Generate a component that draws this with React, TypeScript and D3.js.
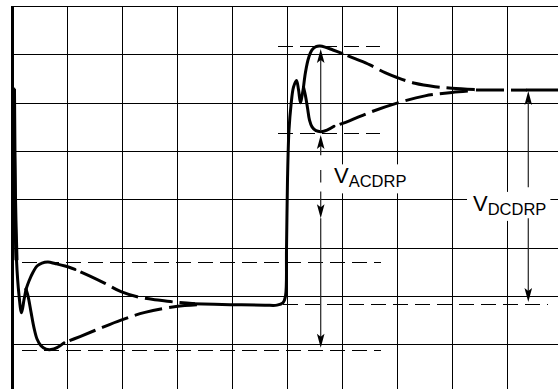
import React, { useEffect, useRef } from 'react';
import * as d3 from 'd3';

type P = [number, number];

// grid: 10 time divisions x 8 voltage divisions
const xDivs: number[] = d3.range(0, 11);
const yDivs: number[] = d3.range(0, 9);

// trace: load step down (left) – solid part
const leftStart: P[] = [
  [0.036, 6.28], [0.055, 4.0], [0.082, 2.74], [0.127, 2.02], [0.173, 1.65], [0.218, 1.92], [0.255, 2.14],
];
const leftUpperSolid: P[] = [
  [0.255, 2.14], [0.309, 2.31], [0.382, 2.49], [0.455, 2.62], [0.545, 2.68], [0.655, 2.70], [0.782, 2.67], [0.964, 2.62], [1.145, 2.55],
];
const leftUpperDashed: P[] = [
  [1.145, 2.55], [1.418, 2.41], [1.691, 2.26], [1.982, 2.09], [2.327, 1.97], [2.691, 1.91], [2.982, 1.87], [3.327, 1.84],
];
const leftLowerSolid: P[] = [
  [0.255, 2.14], [0.291, 2.0], [0.345, 1.67], [0.4, 1.34], [0.455, 1.11], [0.527, 0.97], [0.618, 0.90], [0.709, 0.89], [0.818, 0.93], [0.945, 1.03],
];
const leftLowerDashed: P[] = [
  [0.945, 1.03], [1.236, 1.16], [1.6, 1.33], [1.982, 1.50], [2.418, 1.66], [2.982, 1.78], [3.418, 1.82],
];
// settled low level and load step up
const middleSolid: P[] = [
  [3.273, 1.84], [3.964, 1.82], [4.6, 1.81], [4.818, 1.81], [4.927, 1.86], [4.973, 2.0], [4.991, 2.95], [5.009, 4.40],
  [5.036, 5.43], [5.073, 5.95], [5.118, 6.32], [5.173, 6.46], [5.209, 6.27], [5.245, 6.0], [5.273, 6.14], [5.3, 6.32],
];
const rightUpperSolid: P[] = [
  [5.3, 6.32], [5.336, 6.63], [5.391, 6.92], [5.455, 7.09], [5.527, 7.16], [5.6, 7.17], [5.691, 7.15], [5.836, 7.09], [6.0, 7.02],
];
const rightUpperDashed: P[] = [
  [6.0, 7.02], [6.236, 6.91], [6.509, 6.78], [6.782, 6.62], [7.0, 6.52], [7.327, 6.40], [7.691, 6.33], [8.0, 6.30], [8.418, 6.27],
];
const rightLowerSolid: P[] = [
  [5.3, 6.32], [5.336, 6.14], [5.373, 5.89], [5.409, 5.64], [5.455, 5.50], [5.527, 5.42], [5.618, 5.40], [5.727, 5.43], [5.855, 5.51],
];
const rightLowerDashed: P[] = [
  [5.855, 5.51], [6.145, 5.63], [6.509, 5.80], [7.0, 5.99], [7.509, 6.14], [8.0, 6.21], [8.418, 6.25],
];
const mergedDashed: P[] = [[8.327, 6.26], [9.364, 6.26]];
const finalSolid: P[] = [[9.364, 6.26], [10, 6.26]];

// thin dashed reference levels: [level, xStart, xEnd]
const refLevels: [number, number, number][] = [
  [7.178, 4.836, 6.69],
  [5.378, 4.836, 6.69],
  [2.709, 0.176, 6.709],
  [0.881, 0.176, 6.709],
  [1.827, 4.927, 9.745],
];

// dimension arrows: [x, from, tip]
const arrows: [number, number, number][] = [
  [5.613, 5.43, 7.11],
  [5.613, 4.91, 5.33],
  [5.613, 4.16, 3.61],
  [5.613, 3.61, 0.93],
  [9.387, 4.25, 6.24],
  [9.387, 3.61, 1.875],
];
const plainSegments: [number, number, number][] = [[5.613, 4.606, 4.35]];

// labels: [main, subscript, x, baseline level]
const labels: [string, string, number, number][] = [
  ['V', 'ACDRP', 5.855, 4.33],
  ['V', 'DCDRP', 8.382, 3.76],
];

export default function App() {
  const ref = useRef<SVGSVGElement>(null);
  useEffect(() => {
    const svg = d3.select(ref.current);
    svg.selectAll('*').remove();
    const x = d3.scaleLinear().domain([0, 10]).range([12, 562]);
    const y = d3.scaleLinear().domain([0, 8]).range([392.6, 6]);
    const cx = (v: number) => Math.round(x(v)) + 0.5;
    const cy = (v: number) => Math.round(y(v)) + 0.5;

    svg.append('rect').attr('width', 558).attr('height', 389).attr('fill', '#fff');

    const grid = svg.append('g').attr('shape-rendering', 'crispEdges');
    grid.selectAll('line.v').data(xDivs).join('line').attr('class', 'v')
      .attr('x1', (d) => (d === 0 ? x(d) + 0.5 : cx(d))).attr('x2', (d) => (d === 0 ? x(d) + 0.5 : cx(d)))
      .attr('y1', y(8)).attr('y2', y(0))
      .attr('stroke', '#000').attr('stroke-width', (d) => (d === 0 ? 3 : 1));
    grid.selectAll('line.h').data(yDivs).join('line').attr('class', 'h')
      .attr('x1', x(0)).attr('x2', x(10))
      .attr('y1', (d) => cy(d)).attr('y2', (d) => cy(d))
      .attr('stroke', '#000').attr('stroke-width', 1);

    // labels with white boxes
    const lg = svg.append('g').attr('font-family', "'Liberation Sans', Arial, Helvetica, sans-serif");
    labels.forEach(([m, s, lx, ly]) => {
      const box = lg.append('rect').attr('fill', '#fff');
      const t = lg.append('text').attr('x', x(lx)).attr('y', y(ly)).attr('font-size', 22).attr('fill', '#000');
      t.append('tspan').text(m);
      t.append('tspan').attr('font-size', 16.5).attr('dy', 4).text(s);
      const bb = (t.node() as SVGTextElement).getBBox();
      box.attr('x', bb.x - 6).attr('y', bb.y + 1).attr('width', bb.width + 10).attr('height', bb.height + 2);
    });

    // reference dashed lines
    svg.append('g').attr('shape-rendering', 'crispEdges').selectAll('line').data(refLevels).join('line')
      .attr('x1', (d) => x(d[1])).attr('x2', (d) => x(d[2]))
      .attr('y1', (d) => cy(d[0])).attr('y2', (d) => cy(d[0]))
      .attr('stroke', '#000').attr('stroke-width', 1).attr('stroke-dasharray', '15 7');

    // arrows
    const ag = svg.append('g');
    const headLen = 14, headW = 3.8;
    arrows.forEach(([ax, from, tip]) => {
      const px = x(ax);
      const ty = y(tip);
      const dir = tip > from ? 1 : -1; // 1 = pointing up
      const base = ty + dir * headLen;
      ag.append('line').attr('x1', px).attr('x2', px).attr('y1', y(from)).attr('y2', ty + dir * 10)
        .attr('stroke', '#222').attr('stroke-width', 1.2);
      ag.append('path')
        .attr('d', `M${px},${ty} L${px - headW},${base} L${px},${ty + dir * 11} L${px + headW},${base} Z`)
        .attr('fill', '#000');
    });
    plainSegments.forEach(([ax, a, b]) => {
      ag.append('line').attr('x1', x(ax)).attr('x2', x(ax)).attr('y1', y(a)).attr('y2', y(b))
        .attr('stroke', '#222').attr('stroke-width', 1.2);
    });

    // traces
    const line = d3.line<P>().x((d) => x(d[0])).y((d) => y(d[1])).curve(d3.curveCatmullRom.alpha(0.5));
    const tg = svg.append('g').attr('fill', 'none').attr('stroke', '#000').attr('stroke-width', 3)
      .attr('stroke-linejoin', 'round');
    [leftStart, leftUpperSolid, leftLowerSolid, middleSolid, rightUpperSolid, rightLowerSolid, finalSolid].forEach((pts) => {
      tg.append('path').attr('d', line(pts) as string).attr('stroke-linecap', 'round');
    });
    [leftUpperDashed, leftLowerDashed, rightUpperDashed, rightLowerDashed, mergedDashed].forEach((pts) => {
      tg.append('path').attr('d', line(pts) as string).attr('stroke-dasharray', '28 7').attr('stroke-dashoffset', -6);
    });
    // thick initial edge on left border
    tg.append('path').attr('d', line(leftStart.slice(0, 3)) as string).attr('stroke-width', 4);
  }, []);
  return (
    <svg ref={ref} width={558} height={389} style={{ position: 'absolute', left: 0, top: 0, display: 'block' }} />
  );
}
